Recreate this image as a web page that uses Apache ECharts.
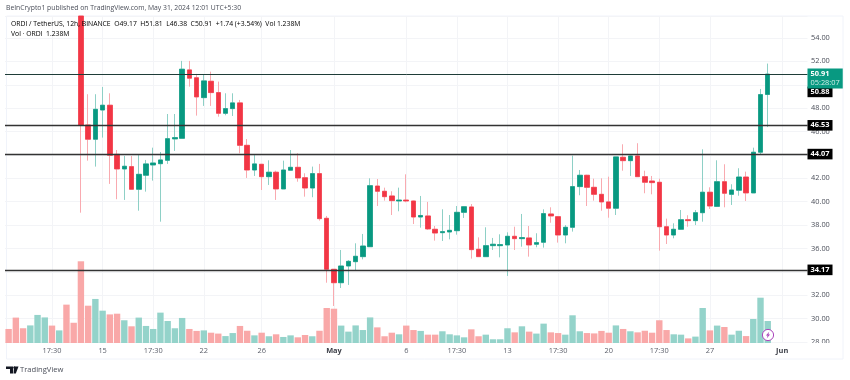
<!DOCTYPE html>
<html>
<head>
<meta charset="utf-8">
<style>html,body{margin:0;padding:0;background:#fff}#c{width:850px;height:380px}</style>
<script src="https://cdn.jsdelivr.net/npm/echarts@6/dist/echarts.min.js"></script>
</head>
<body>
<div id="c"></div>
<script>
// Candles before this index sit above the visible price range (only their volume shows)
const firstCandle = 10;
const opens = [55.88,46.56,45.34,47.84,48.25,44.05,42.80,43.0,41.06,42.26,43.14,43.25,43.54,45.37,45.42,51.27,50.6,48.9,50.3,49.33,47.56,47.96,48.45,44.82,42.71,43.2,42.14,42.52,41.09,42.69,42.94,42.05,41.17,42.4,38.58,34.22,33.07,34.5,34.87,35.3,36.15,41.34,40.89,40.49,40.06,40.14,40.06,38.69,38.78,37.64,37.35,37.41,37.52,39.09,39.55,35.93,35.3,36.24,36.24,36.3,37.04,36.84,36.9,36.36,36.53,38.95,38.72,37.15,37.81,41.29,42.26,41.23,40.63,39.98,39.44,43.8,43.51,43.91,42.14,41.77,41.66,37.86,37.15,37.64,38.46,38.38,39.06,40.81,39.6,41.71,40.63,40.98,42.11,40.75,44.23,49.17];
const closes = [46.55,45.34,47.90,48.25,43.97,42.80,43.03,41.06,42.34,43.23,43.31,43.57,45.39,45.48,51.33,50.56,48.96,50.33,49.33,47.56,47.96,48.45,44.82,42.71,43.23,42.14,42.52,41.09,42.71,42.94,42.03,41.17,42.4,38.55,34.22,33.07,34.5,34.9,35.33,36.21,41.37,40.89,40.43,40.09,40.14,40.06,38.69,38.82,37.67,37.32,37.44,37.55,39.09,39.57,35.9,35.3,36.24,36.36,36.33,37.04,36.84,36.93,36.3,36.5,38.98,38.78,37.15,37.81,41.29,42.26,41.23,40.63,39.98,39.44,43.83,43.51,43.91,42.14,41.66,41.63,37.86,37.15,37.64,38.46,38.38,39.06,40.81,39.63,41.71,40.72,41.0,42.11,40.75,44.23,49.16,50.91];
const lows = [39.06,43.51,43.0,45.48,41.52,40.21,40.15,41.05,39.23,40.86,41.80,38.29,43.23,44.34,45.42,49.84,47.36,48.19,48.19,47.27,47.39,47.33,44.14,42.03,42.2,41.0,41.43,40.15,41.09,42.69,41.71,40.43,40.38,38.38,33.07,31.08,32.62,32.88,34.1,35.07,36.15,39.63,40.09,38.86,39.18,39.95,38.09,37.78,37.58,36.67,36.64,36.78,37.18,38.61,35.13,35.28,35.3,35.87,35.24,33.65,35.87,36.15,35.3,36.1,36.07,38.2,36.5,36.44,37.44,40.55,39.63,40.09,39.23,38.63,38.86,42.65,42.2,42.14,40.72,40.63,35.81,36.38,36.87,37.6,37.86,38.0,38.29,39.38,39.55,39.52,39.72,40.51,40.06,40.75,44.08,46.38];
const highs = [55.88,49.19,49.19,49.81,49.27,44.42,43.91,43.91,44.06,43.57,44.62,44.25,47.50,47.50,52.04,52.04,50.93,50.84,51.12,50.27,49.27,49.27,48.70,45.36,44.06,43.23,43.54,42.65,43.51,44.42,44.14,42.43,43.0,43.23,38.78,34.22,35.87,35.01,36.44,37.24,42.0,41.94,41.2,40.89,41.2,42.34,40.1,40.49,39.98,37.92,39.35,38.86,39.63,39.63,39.8,36.95,37.81,36.9,37.21,37.38,37.86,38.95,37.92,37.3,39.35,39.52,38.78,38.0,43.94,42.71,42.3,41.97,42.0,42.14,43.83,44.91,43.95,45.0,42.65,42.2,41.97,38.55,38.15,39.29,38.84,39.29,44.48,41.23,43.54,43.2,41.49,42.86,42.57,44.62,49.64,51.81];
// Volume in millions, one per 12h bar
const volumes = [.79,1.43,.83,.99,1.58,1.44,.98,.71,2.16,1.14,4.60,2.10,2.48,1.82,1.61,1.65,1.28,.94,1.43,.96,.79,1.71,1.24,.83,1.41,.79,.68,.71,.58,.53,.39,.56,.96,.69,.43,.58,.38,.49,.34,.43,.32,.45,.38,.69,1.97,1.93,.98,.64,.99,.73,1.44,.88,.38,.58,.49,.98,.73,.68,.47,.47,.66,.49,.43,.32,.77,.38,.47,.21,.21,.83,.60,.94,.64,.53,1.09,.60,.56,.47,1.56,.66,.56,.54,.68,.58,.99,.79,.66,.60,.69,.58,1.28,.73,.49,.47,.26,.36,1.97,.71,.98,.90,.47,.69,.39,1.35,2.55,1.238];
const earlyVolumeUp = [0,0,0,1,1,1,0,1,0,0];
// Time axis: bar index and its label
const tickIndexes = [6,13,20,27,35,45,55,62,69,76,83,90,97,107];
const tickLabels = ['17:30','15','17:30','22','26','May','6','17:30','13','17:30','20','17:30','27','Jun'];
const boldTicks = ['May','Jun'];
const barSlots = 111;
const priceTicks = {min:28, max:55.88, step:2};
// Horizontal support / resistance levels
const levels = [50.91,46.53,44.07,34.17];
const prevCloseTag = {anchor:49.39, text:'50.88'};
const lastTag = {anchor:50.54, price:'50.91', countdown:'05:28:07'};
const headerText = 'BeInCrypto1 published on TradingView.com, May 31, 2024 12:01 UTC+5:30';

const UP='#089981', DOWN='#f23645', UPW='#8ed0c6', DOWNW='#f9aab0', UPV='#94d3ca', DOWNV='#f9a8a8';
const FONT='"Open Sans", "DejaVu Sans", sans-serif';
const GL=5, GW=802.5, PT=16, PH=326, VT=200, VH=143;

const cats = Array.from({length:barSlots},(_,i)=>String(i));
const blank = Array.from({length:firstCandle},()=>'-');
const full = blank.concat(opens.map((o,k)=>[o,closes[k],lows[k],highs[k]]));
const bodies = blank.concat(opens.map((o,k)=>[o,closes[k],Math.min(o,closes[k]),Math.max(o,closes[k])]));
const volData = volumes.map((v,i)=>{
  const up = i<firstCandle ? earlyVolumeUp[i] : closes[i-firstCandle]>=opens[i-firstCandle];
  return {value:v,itemStyle:{color:up?UPV:DOWNV}};
});
const tickAt = i=>tickIndexes.indexOf(i)>=0;

const lvlLabel = t=>({show:true,position:'end',distance:0,formatter:t,color:'#fff',backgroundColor:'#000',
  padding:[1.8,3,1.8,3],fontSize:7.4,fontWeight:'bold',fontFamily:FONT});
const hidden = {color:'rgba(0,0,0,0)',width:0.01,type:'solid'};
const lines = levels.map((v,k)=>({yAxis:v,lineStyle:{color:k===0?'#1f3d38':'#333',width:k===0?1:1.3,type:'solid',opacity:1},
  label:k===0?{show:false}:lvlLabel(v.toFixed(2))}));
lines.push({yAxis:prevCloseTag.anchor,lineStyle:hidden,label:lvlLabel(prevCloseTag.text)});
lines.push({yAxis:lastTag.anchor,lineStyle:hidden,label:{show:true,position:'end',distance:0,
  formatter:'{a|'+lastTag.price+'}\n{b|'+lastTag.countdown+'}',backgroundColor:UP,padding:[1,3,1,3],
  rich:{a:{color:'#fff',fontSize:7.4,fontWeight:'bold',fontFamily:FONT,lineHeight:9},b:{color:'#cfeee8',fontSize:7.4,fontFamily:FONT,lineHeight:9}}}});

const G='#089981', K='#4a4e59';
const hdrRich = {k:{color:K,fontSize:6.8,fontFamily:FONT},g:{color:G,fontSize:6.8,fontFamily:FONT}};
const chart = echarts.init(document.getElementById('c'),null,{renderer:'canvas'});
chart.setOption({
  animation:false,
  backgroundColor:'#fff',
  grid:[
    {left:GL,top:PT,width:GW,height:PH,containLabel:false},
    {left:GL,top:VT,width:GW,height:VH,containLabel:false}
  ],
  xAxis:[
    {type:'category',gridIndex:0,data:cats,boundaryGap:true,axisLine:{show:false},axisTick:{show:false},axisLabel:{show:false},
      splitLine:{show:true,alignWithLabel:true,interval:tickAt,lineStyle:{color:'#f3f4f7',width:1}}},
    {type:'category',gridIndex:1,data:cats,boundaryGap:true,axisLine:{show:false},axisTick:{show:false},splitLine:{show:false},
      axisLabel:{show:true,interval:tickAt,margin:4.5,hideOverlap:false,
        formatter:(v,i)=>{const t=tickLabels[tickIndexes.indexOf(i)];return t===undefined?'':(boldTicks.indexOf(t)>=0?'{b|'+t+'}':t);},
        color:'#5a5e69',fontSize:7.4,fontFamily:FONT,rich:{b:{fontWeight:'bold',color:'#3c3f48',fontSize:7.4,fontFamily:FONT}}}}
  ],
  yAxis:[
    {type:'value',gridIndex:0,position:'right',min:priceTicks.min,max:priceTicks.max,interval:priceTicks.step,
      axisLine:{show:false},axisTick:{show:false},
      splitLine:{show:true,lineStyle:{color:'#f3f4f7',width:1}},
      axisLabel:{show:true,margin:3.5,showMaxLabel:false,showMinLabel:true,formatter:v=>v.toFixed(2),color:'#4a4e59',fontSize:7.4,fontFamily:FONT}},
    {type:'value',gridIndex:1,min:0,max:8.05,show:false,splitLine:{show:false}}
  ],
  series:[
    {type:'bar',xAxisIndex:1,yAxisIndex:1,data:volData,barWidth:6.4,silent:true,z:1},
    {type:'candlestick',xAxisIndex:0,yAxisIndex:0,data:full,barWidth:5,silent:true,z:2,
      itemStyle:{color:UPW,color0:DOWNW,borderColor:UPW,borderColor0:DOWNW,borderWidth:1}},
    {type:'candlestick',xAxisIndex:0,yAxisIndex:0,data:bodies,barWidth:5,silent:true,z:3,
      itemStyle:{color:UP,color0:DOWN,borderColor:UP,borderColor0:DOWN,borderWidth:0.6},
      markLine:{silent:true,symbol:'none',animation:false,z:4,data:lines}}
  ],
  graphic:[
    {type:'rect',z:-1,silent:true,shape:{x:6.5,y:16,width:836.5,height:343},style:{fill:'none',stroke:'#f0f3fa',lineWidth:1}},
    {type:'rect',z:50,silent:true,shape:{x:808,y:343,width:28,height:6},style:{fill:'#fff'}},
    {type:'text',z:60,silent:true,left:6,top:5,style:{text:headerText,fill:'#4a4e59',fontSize:6.8,fontFamily:FONT}},
    {type:'text',z:60,silent:true,left:11,top:21,style:{
      text:'{k|ORDI / TetherUS, 12h, BINANCE  O}{g|49.17}{k|  H}{g|51.81}{k|  L}{g|46.38}{k|  C}{g|50.91}{g|  +1.74 (+3.54%)}{k|  Vol}{g| 1.238M}',rich:hdrRich}},
    {type:'text',z:60,silent:true,left:11,top:31,style:{text:'{k|Vol \u00b7 ORDI}{g|  1.238M}',rich:hdrRich}},
    {type:'circle',z:60,silent:true,shape:{cx:768,cy:335,r:5.6},style:{fill:'#fff',stroke:'#ab47bc',lineWidth:1}},
    {type:'polygon',z:61,silent:true,shape:{points:[[769.2,331.8],[765.9,335.6],[767.6,335.6],[766.8,338.2],[770.1,334.4],[768.4,334.4]]},style:{fill:'#ab47bc'}},
    {type:'polygon',z:60,silent:true,shape:{points:[[6,366.5],[13,366.5],[13,373.5],[10,373.5],[10,369],[6,369]]},style:{fill:'#131722'}},
    {type:'polygon',z:60,silent:true,shape:{points:[[14,366.5],[18.5,366.5],[15.8,373.5],[13.5,373.5]]},style:{fill:'#131722'}},
    {type:'circle',z:60,silent:true,shape:{cx:14.3,cy:367.6,r:1.1},style:{fill:'#131722'}},
    {type:'text',z:60,silent:true,left:20,top:366,style:{text:'TradingView',fill:'#4a4e59',fontSize:7.6,fontFamily:FONT}}
  ]
});
</script>
</body>
</html>
